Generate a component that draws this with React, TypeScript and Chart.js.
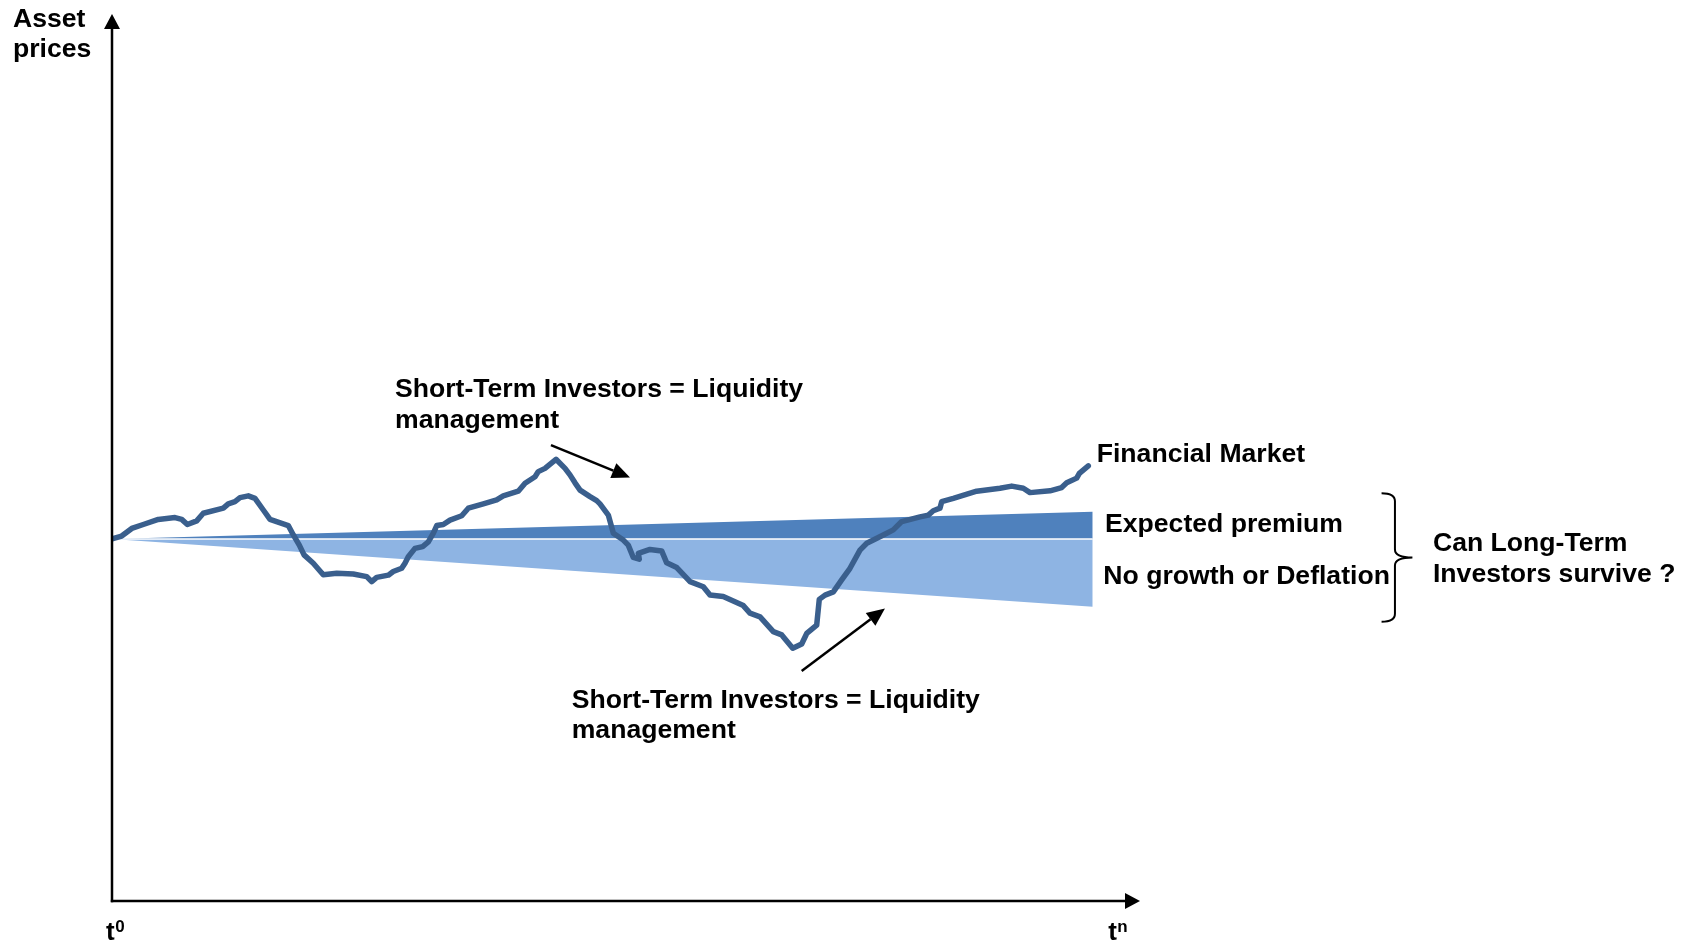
import React, { useEffect, useRef } from "react";
import { Chart, registerables } from "chart.js";

Chart.register(...registerables);

const W = 1689;
const H = 943;

// Time axis (t0 = 0) and price index (start = 100)
const xRange = [0, 100];
const yRange = [0, 245];

const marketX = [
  0, 0.94, 1.92, 3.04, 4.5, 6.13, 6.78, 7.33, 8.24, 8.88, 10.83, 11.31, 11.96, 12.45, 13.26, 13.91,
  14.72, 15.37, 17.15, 17.64, 18.22, 18.68, 19.58, 20.55, 21.86, 23.47, 24.78, 25.26, 25.75, 26.88,
  27.36, 28.18, 28.5, 28.82, 29.47, 30.22, 30.77, 31.26, 31.59, 32.23, 32.88, 34.02, 34.66, 36.12,
  37.42, 38.06, 39.52, 40.18, 41.15, 41.47, 42.12, 43.19, 44.07, 44.55, 45.04, 45.53, 46.5, 47.15,
  47.47, 48.28, 48.77, 49.74, 50.22, 50.71, 51.29, 51.2, 52.33, 53.47, 53.96, 54.94, 56.23, 57.52,
  58.17, 59.46, 61.41, 62.06, 63.04, 64.33, 65.15, 66.22, 67.09, 67.58, 68.55, 68.8, 69.36, 70.17,
  70.98, 71.79, 72.76, 73.42, 75.03, 76.0, 76.82, 78.6, 79.41, 79.89, 80.54, 80.71, 81.84, 84.11,
  86.38, 87.52, 88.65, 89.3, 91.25, 92.38, 92.87, 93.84, 94.1, 94.97,
];
const marketY = [
  100, 100.8, 102.9, 104.0, 105.4, 105.9, 105.4, 104.0, 105.0, 107.1, 108.5, 109.7, 110.3, 111.4,
  111.9, 111.2, 108.0, 105.4, 103.7, 101.1, 98.3, 95.6, 93.3, 90.1, 90.5, 90.3, 89.6, 88.2, 89.4,
  90.0, 91.0, 91.9, 93.3, 95.1, 97.4, 97.9, 99.2, 101.6, 103.7, 104.0, 105.2, 106.4, 108.5, 109.7,
  110.8, 111.9, 113.2, 115.4, 117.2, 118.6, 119.5, 122.0, 119.5, 117.7, 115.5, 113.5, 111.7, 110.6,
  109.7, 106.6, 101.6, 99.7, 98.3, 94.9, 94.4, 96.0, 97.1, 96.7, 93.4, 92.1, 88.2, 86.8, 84.5, 84.1,
  81.6, 79.5, 78.5, 74.4, 73.5, 69.8, 71.0, 73.9, 76.2, 83.3, 84.5, 85.4, 88.7, 91.9, 96.9, 98.8,
  101.1, 102.5, 104.8, 106.1, 106.6, 107.8, 108.5, 110.3, 111.2, 113.2, 114.0, 114.6, 114.0, 112.8,
  113.3, 114.2, 115.5, 116.8, 118.1, 120.2,
];

const wedgeX = [0, 95.4];
const baseY = [100, 100];
const premiumY = [100, 107.5];
const deflationY = [100, 81.3];

// Annotation texts (data coordinates of left/baseline)
const notes = [
  { text: "Asset", x: -9.63, y: 241.3 },
  { text: "prices", x: -9.63, y: 233.0 },
  { text: "Short-Term Investors = Liquidity", x: 27.53, y: 139.2 },
  { text: "management", x: 27.53, y: 130.6 },
  { text: "Short-Term Investors = Liquidity", x: 44.72, y: 53.3 },
  { text: "management", x: 44.72, y: 45.0 },
  { text: "Financial Market", x: 95.79, y: 121.2 },
  { text: "Expected premium", x: 96.6, y: 102.0 },
  { text: "No growth or Deflation", x: 96.43, y: 87.5 },
  { text: "Can Long-Term", x: 128.5, y: 96.7 },
  { text: "Investors survive ?", x: 128.5, y: 88.2 },
];
const timeLabels = [
  { base: "t", sup: "0", x: -0.58, y: -10.8 },
  { base: "t", sup: "n", x: 96.9, y: -10.8 },
];
const arrows = [
  { x1: 42.7, y1: 125.9, x2: 50.39, y2: 117.0 },
  { x1: 67.09, y1: 63.5, x2: 75.19, y2: 80.8 },
];
const brace = { xa: 123.5, xb: 124.8, xc: 126.5, top: 112.6, mid: 94.9, bottom: 77.1 };

const FONT = '"Liberation Sans", Arial, Helvetica, sans-serif';

function zip(xs: number[], ys: number[]) {
  return xs.map((x, i) => ({ x, y: ys[i] }));
}

function arrowHead(ctx: CanvasRenderingContext2D, x1: number, y1: number, x2: number, y2: number, len: number, half: number) {
  const ang = Math.atan2(y2 - y1, x2 - x1);
  const bx = x2 - len * Math.cos(ang);
  const by = y2 - len * Math.sin(ang);
  ctx.beginPath();
  ctx.moveTo(x2, y2);
  ctx.lineTo(bx + half * Math.sin(ang), by - half * Math.cos(ang));
  ctx.lineTo(bx - half * Math.sin(ang), by + half * Math.cos(ang));
  ctx.closePath();
  ctx.fill();
  return { bx, by };
}

const annotationPlugin = {
  id: "annotations",
  afterDraw(chart: any) {
    const { ctx, chartArea: a, scales } = chart;
    const px = (v: number) => scales.x.getPixelForValue(v);
    const py = (v: number) => scales.y.getPixelForValue(v);
    ctx.save();
    ctx.strokeStyle = "#000";
    ctx.fillStyle = "#000";
    ctx.lineCap = "butt";

    // Axes with arrow heads
    ctx.lineWidth = 2.5;
    ctx.beginPath();
    ctx.moveTo(a.left, a.bottom + 1.2);
    ctx.lineTo(a.left, a.top + 12);
    ctx.stroke();
    arrowHead(ctx, a.left, a.bottom, a.left, a.top, 15, 8);
    ctx.beginPath();
    ctx.moveTo(a.left - 1.2, a.bottom);
    ctx.lineTo(a.right - 12, a.bottom);
    ctx.stroke();
    arrowHead(ctx, a.left, a.bottom, a.right, a.bottom, 15, 8);

    // Pointer arrows
    ctx.lineWidth = 2.5;
    for (const ar of arrows) {
      const x1 = px(ar.x1), y1 = py(ar.y1), x2 = px(ar.x2), y2 = py(ar.y2);
      const { bx, by } = arrowHead(ctx, x1, y1, x2, y2, 18, 8);
      ctx.beginPath();
      ctx.moveTo(x1, y1);
      ctx.lineTo(bx, by);
      ctx.stroke();
    }

    // Brace
    const xa = px(brace.xa), xb = px(brace.xb), xc = px(brace.xc);
    const yt = py(brace.top), ym = py(brace.mid), yb = py(brace.bottom);
    const r = 8;
    ctx.lineWidth = 2;
    ctx.beginPath();
    ctx.moveTo(xa, yt);
    ctx.quadraticCurveTo(xb, yt, xb, yt + r);
    ctx.lineTo(xb, ym - r);
    ctx.quadraticCurveTo(xb, ym, xc, ym);
    ctx.quadraticCurveTo(xb, ym, xb, ym + r);
    ctx.lineTo(xb, yb - r);
    ctx.quadraticCurveTo(xb, yb, xa, yb);
    ctx.stroke();

    // Texts
    ctx.textAlign = "left";
    ctx.textBaseline = "alphabetic";
    ctx.font = `bold 26.6px ${FONT}`;
    for (const n of notes) ctx.fillText(n.text, px(n.x), py(n.y));

    for (const t of timeLabels) {
      ctx.font = `bold 26px ${FONT}`;
      const x0 = px(t.x), y0 = py(t.y);
      ctx.fillText(t.base, x0, y0);
      const w = ctx.measureText(t.base).width;
      ctx.font = `bold 17px ${FONT}`;
      ctx.fillText(t.sup, x0 + w + 0.5, y0 - 8);
    }
    ctx.restore();
  },
};

export default function App() {
  const ref = useRef<HTMLCanvasElement | null>(null);

  useEffect(() => {
    if (!ref.current) return;
    const chart = new Chart(ref.current, {
      type: "line",
      data: {
        datasets: [
          {
            label: "Financial Market",
            data: zip(marketX, marketY),
            borderColor: "#3A5F8D",
            borderWidth: 5.5,
            pointRadius: 0,
            tension: 0,
            fill: false,
            borderJoinStyle: "round",
            borderCapStyle: "round",
            order: 0,
          },
          {
            label: "Baseline",
            data: zip(wedgeX, baseY),
            borderColor: "#FFFFFF",
            borderWidth: 1.5,
            pointRadius: 0,
            fill: false,
            order: 1,
          },
          {
            label: "Expected premium",
            data: zip(wedgeX, premiumY),
            borderColor: "rgba(0,0,0,0)",
            borderWidth: 0,
            backgroundColor: "#4F81BD",
            pointRadius: 0,
            fill: { value: 100 },
            order: 2,
          },
          {
            label: "No growth or Deflation",
            data: zip(wedgeX, deflationY),
            borderColor: "rgba(0,0,0,0)",
            borderWidth: 0,
            backgroundColor: "#8EB4E3",
            pointRadius: 0,
            fill: { value: 100 },
            order: 3,
          },
        ],
      },
      options: {
        responsive: false,
        animation: false,
        events: [],
        layout: { padding: { left: 112, right: W - 1140, top: 14, bottom: H - 901 } },
        plugins: { legend: { display: false }, tooltip: { enabled: false }, title: { display: false } },
        scales: {
          x: { type: "linear", min: xRange[0], max: xRange[1], display: false },
          y: { type: "linear", min: yRange[0], max: yRange[1], display: false },
        },
      } as any,
      plugins: [annotationPlugin],
    });
    return () => chart.destroy();
  }, []);

  return (
    <div style={{ position: "absolute", left: 0, top: 0, width: W, height: H, background: "#fff" }}>
      <canvas ref={ref} width={W} height={H} style={{ display: "block", width: W, height: H }} />
    </div>
  );
}
